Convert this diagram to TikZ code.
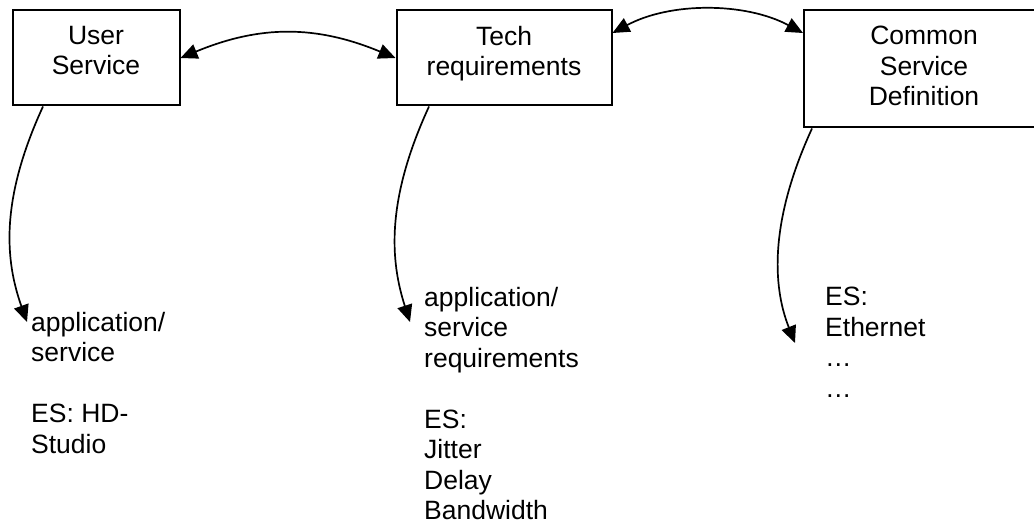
\documentclass[tikz,border=0pt]{standalone}
\usepackage{fontspec}
\setmainfont{Liberation Sans}
\usetikzlibrary{arrows.meta,calc}
\begin{document}
\begin{tikzpicture}[x=1pt,y=-1pt,
  box/.style={draw, line width=2pt, inner sep=0pt},
  txt/.style={font=\fontsize{26.5}{30.5}\selectfont, inner sep=0pt, align=left, anchor=north west},
  boxtxt/.style={txt, align=center, anchor=north},
  link/.style={line width=1.7pt, {Triangle[length=17pt,width=15pt]}-{Triangle[length=17pt,width=15pt]}},
  down/.style={line width=1.7pt, -{Triangle[length=17pt,width=15pt]}},
]
\useasboundingbox (0,0) rectangle (1034,524);

% the three boxes
\node[box, minimum width=167pt, minimum height=95pt] (b1) at (96,58) {};
\node[box, minimum width=215pt, minimum height=95pt] (b2) at (504,58) {};
\node[box, minimum width=240pt, minimum height=117pt] (b3) at (924,69) {};

% box captions
\node[boxtxt] (t1) at (96,26) {User\\Service};
\node[boxtxt] (t2) at (504,26) {Tech\\requirements};
\node[boxtxt] (t3) at (924,26) {Common\\Service\\Definition};

% notes below each box
\node[txt] (c1) at (31,312) {application/\\service\\[30.5pt]ES: HD-\\Studio};
\node[txt] (c2) at (424,287) {application/\\service\\requirements\\[30.5pt]ES:\\Jitter\\Delay\\Bandwidth};
\node[txt] (c3) at (825,287) {ES:\\Ethernet\\…\\…};

% two-way links between the boxes
\draw[link] (b1.east) .. controls (260,25) and (316,25) .. (b2.west);
\draw[link] ([yshift=25pt]b2.east) .. controls (670,2) and (745,2) .. ([yshift=36pt]b3.west);

% downward arrows to the notes
\coordinate (e1) at (27,322);
\coordinate (e2) at (410,322);
\coordinate (e3) at (795,343);
\draw[down] ([xshift=-53pt]b1.south) .. controls (0,200) and (5,260) .. (e1);
\draw[down] ([xshift=-75pt]b2.south) .. controls (386,200) and (390,260) .. (e2);
\draw[down] ([xshift=-112pt]b3.south) .. controls (770,220) and (772,285) .. (e3);
\end{tikzpicture}
\end{document}
